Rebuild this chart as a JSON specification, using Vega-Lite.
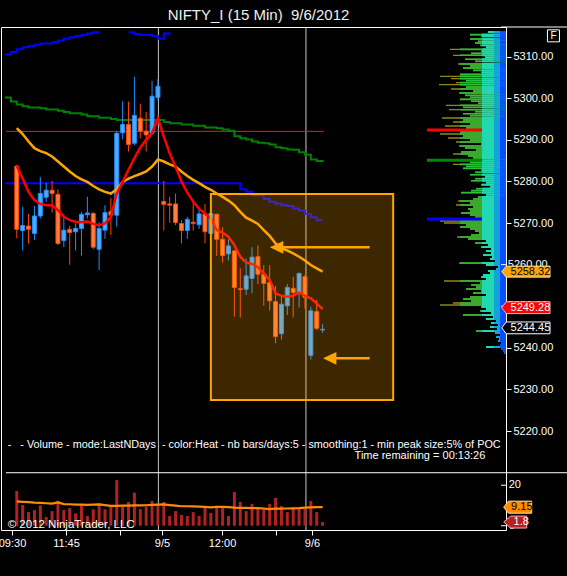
{
"$schema": "https://vega.github.io/schema/vega-lite/v6.json",
"width": 505, "height": 503,
"autosize": {"type": "none"},
"padding": {"left": 1, "top": 27, "right": 61, "bottom": 46},
"background": "#000000",
"title": {"text": "NIFTY_I (15 Min)\u00a0\u00a09/6/2012", "color": "#f0f0f0", "font": "Liberation Sans", "fontSize": 15, "fontWeight": "normal", "frame": "group", "anchor": "middle", "dx": 5, "offset": 4},
"config": {
  "view": {"stroke": "#ffffff", "strokeWidth": 1},
  "axis": {"labelColor": "#ffffff", "tickColor": "#ffffff", "domain": false, "grid": false, "labelFont": "Liberation Sans", "labelFontSize": 11},
  "text": {"font": "Liberation Sans", "fontSize": 11, "color": "#ffffff"}
},
"datasets": {
"candles": [
{"i":0,"o":5283.7,"h":5284.0,"l":5266.3,"c":5268.5,"d":"dn","m1":5283.7,"m2":5292.8},
{"i":1,"o":5268.2,"h":5273.9,"l":5263.4,"c":5269.4,"d":"up","m1":5280.7,"m2":5291.4},
{"i":2,"o":5269.3,"h":5272.2,"l":5265.1,"c":5268.5,"d":"dn","m1":5277.5,"m2":5289.6},
{"i":3,"o":5267.5,"h":5274.1,"l":5265.9,"c":5271.7,"d":"up","m1":5275.5,"m2":5288.0},
{"i":4,"o":5271.7,"h":5281.1,"l":5271.1,"c":5277.1,"d":"up","m1":5274.6,"m2":5287.3},
{"i":5,"o":5276.2,"h":5279.7,"l":5275.1,"c":5277.9,"d":"up","m1":5274.3,"m2":5286.8},
{"i":6,"o":5277.9,"h":5280.1,"l":5272.5,"c":5277.1,"d":"dn","m1":5274.3,"m2":5286.0},
{"i":7,"o":5276.9,"h":5278.1,"l":5264.7,"c":5265.1,"d":"dn","m1":5273.1,"m2":5284.8},
{"i":8,"o":5265.8,"h":5272.2,"l":5264.2,"c":5268.3,"d":"up","m1":5271.5,"m2":5283.6},
{"i":9,"o":5268.5,"h":5269.3,"l":5260.0,"c":5267.7,"d":"dn","m1":5270.7,"m2":5282.4},
{"i":10,"o":5267.9,"h":5269.9,"l":5263.4,"c":5268.7,"d":"up","m1":5270.3,"m2":5281.3},
{"i":11,"o":5268.7,"h":5272.7,"l":5262.2,"c":5272.1,"d":"up","m1":5270.2,"m2":5280.5},
{"i":12,"o":5272.0,"h":5276.3,"l":5271.1,"c":5272.4,"d":"up","m1":5270.4,"m2":5279.9},
{"i":13,"o":5272.3,"h":5272.7,"l":5263.7,"c":5264.2,"d":"dn","m1":5269.8,"m2":5278.9},
{"i":14,"o":5263.7,"h":5270.2,"l":5258.7,"c":5268.7,"d":"up","m1":5269.5,"m2":5278.1},
{"i":15,"o":5268.3,"h":5274.3,"l":5266.2,"c":5272.5,"d":"up","m1":5269.9,"m2":5277.5},
{"i":16,"o":5272.8,"h":5276.0,"l":5267.1,"c":5271.9,"d":"dn","m1":5271.5,"m2":5277.1},
{"i":17,"o":5271.9,"h":5292.0,"l":5269.1,"c":5291.6,"d":"up","m1":5277.1,"m2":5278.1},
{"i":18,"o":5291.7,"h":5299.3,"l":5290.1,"c":5293.7,"d":"up","m1":5279.9,"m2":5279.9},
{"i":19,"o":5293.7,"h":5299.2,"l":5287.2,"c":5288.9,"d":"dn","m1":5282.8,"m2":5280.7},
{"i":20,"o":5289.2,"h":5305.2,"l":5288.7,"c":5295.9,"d":"up","m1":5285.6,"m2":5281.3},
{"i":21,"o":5295.2,"h":5298.7,"l":5290.4,"c":5292.1,"d":"dn","m1":5288.2,"m2":5281.8},
{"i":22,"o":5292.1,"h":5296.7,"l":5287.2,"c":5291.2,"d":"dn","m1":5290.0,"m2":5282.4},
{"i":23,"o":5291.6,"h":5304.2,"l":5291.2,"c":5300.5,"d":"up","m1":5291.6,"m2":5283.6},
{"i":24,"o":5300.2,"h":5304.6,"l":5299.5,"c":5302.9,"d":"up","m1":5295.2,"m2":5285.3},
{"i":25,"o":5275.2,"h":5280.1,"l":5268.2,"c":5274.5,"d":"dn","m1":5290.8,"m2":5284.8},
{"i":26,"o":5274.6,"h":5276.3,"l":5270.1,"c":5274.3,"d":"dn","m1":5286.8,"m2":5284.1},
{"i":27,"o":5274.6,"h":5277.1,"l":5269.5,"c":5270.1,"d":"dn","m1":5283.5,"m2":5283.6},
{"i":28,"o":5269.9,"h":5270.7,"l":5265.1,"c":5268.2,"d":"dn","m1":5280.0,"m2":5282.4},
{"i":29,"o":5268.2,"h":5271.5,"l":5266.2,"c":5270.9,"d":"up","m1":5277.3,"m2":5281.3},
{"i":30,"o":5270.2,"h":5275.3,"l":5268.2,"c":5269.9,"d":"dn","m1":5275.2,"m2":5280.4},
{"i":31,"o":5269.6,"h":5273.5,"l":5268.6,"c":5272.2,"d":"up","m1":5273.4,"m2":5279.6},
{"i":32,"o":5272.2,"h":5274.6,"l":5265.1,"c":5267.9,"d":"dn","m1":5272.3,"m2":5278.7},
{"i":33,"o":5267.5,"h":5272.7,"l":5267.1,"c":5272.3,"d":"up","m1":5271.1,"m2":5278.0},
{"i":34,"o":5272.1,"h":5272.3,"l":5262.1,"c":5266.1,"d":"dn","m1":5268.3,"m2":5277.1},
{"i":35,"o":5266.1,"h":5269.0,"l":5260.5,"c":5262.2,"d":"dn","m1":5267.7,"m2":5276.3},
{"i":36,"o":5262.6,"h":5266.1,"l":5261.0,"c":5264.5,"d":"up","m1":5266.7,"m2":5275.4},
{"i":37,"o":5263.3,"h":5263.5,"l":5247.5,"c":5254.5,"d":"dn","m1":5264.7,"m2":5274.3},
{"i":38,"o":5254.2,"h":5259.1,"l":5247.3,"c":5254.0,"d":"dn","m1":5261.9,"m2":5272.7},
{"i":39,"o":5254.1,"h":5261.5,"l":5252.7,"c":5257.3,"d":"up","m1":5260.5,"m2":5271.3},
{"i":40,"o":5256.7,"h":5264.2,"l":5253.1,"c":5261.8,"d":"up","m1":5260.2,"m2":5270.6},
{"i":41,"o":5261.9,"h":5264.6,"l":5255.3,"c":5257.7,"d":"dn","m1":5259.4,"m2":5269.8},
{"i":42,"o":5257.7,"h":5259.9,"l":5250.1,"c":5255.5,"d":"dn","m1":5257.9,"m2":5268.3},
{"i":43,"o":5255.7,"h":5259.9,"l":5249.0,"c":5251.3,"d":"dn","m1":5256.3,"m2":5266.9},
{"i":44,"o":5251.1,"h":5254.9,"l":5241.1,"c":5242.7,"d":"dn","m1":5253.1,"m2":5265.1},
{"i":45,"o":5243.4,"h":5252.3,"l":5242.0,"c":5250.5,"d":"up","m1":5252.5,"m2":5263.9},
{"i":46,"o":5250.1,"h":5255.3,"l":5247.9,"c":5254.5,"d":"up","m1":5252.3,"m2":5263.4},
{"i":47,"o":5254.3,"h":5257.1,"l":5247.3,"c":5253.3,"d":"dn","m1":5252.5,"m2":5262.7},
{"i":48,"o":5253.1,"h":5258.1,"l":5249.7,"c":5257.9,"d":"up","m1":5253.3,"m2":5261.9},
{"i":49,"o":5257.1,"h":5257.5,"l":5249.5,"c":5252.1,"d":"dn","m1":5252.5,"m2":5261.0},
{"i":50,"o":5238.2,"h":5249.9,"l":5237.2,"c":5248.9,"d":"up","m1":5251.9,"m2":5259.9},
{"i":51,"o":5248.7,"h":5251.5,"l":5244.3,"c":5244.7,"d":"dn","m1":5250.7,"m2":5259.1},
{"i":52,"o":5244.3,"h":5245.7,"l":5243.6,"c":5244.45,"d":"up","m1":5249.28,"m2":5258.32}
],
"vol": [
{"i":0,"v":17.1,"s":12.0},{"i":1,"v":10.2,"s":11.8},{"i":2,"v":6.7,"s":11.6},{"i":3,"v":7.7,"s":11.4},{"i":4,"v":10.0,"s":11.3},{"i":5,"v":4.3,"s":11.1},{"i":6,"v":7.2,"s":10.9},{"i":7,"v":12.3,"s":11.5},{"i":8,"v":7.7,"s":10.7},{"i":9,"v":8.7,"s":10.6},{"i":10,"v":6.1,"s":10.4},{"i":11,"v":10.0,"s":10.4},{"i":12,"v":4.8,"s":10.3},{"i":13,"v":8.1,"s":10.4},{"i":14,"v":11.0,"s":10.5},{"i":15,"v":8.1,"s":10.2},{"i":16,"v":9.7,"s":9.8},{"i":17,"v":22.5,"s":9.8},{"i":18,"v":9.4,"s":9.9},{"i":19,"v":11.7,"s":9.9},{"i":20,"v":16.3,"s":10.0},{"i":21,"v":8.2,"s":10.0},{"i":22,"v":9.4,"s":10.1},{"i":23,"v":12.2,"s":10.3},{"i":24,"v":11.0,"s":10.4},{"i":25,"v":11.7,"s":10.5},{"i":26,"v":4.8,"s":10.2},{"i":27,"v":7.2,"s":9.9},{"i":28,"v":5.3,"s":9.6},{"i":29,"v":4.8,"s":9.6},{"i":30,"v":6.7,"s":9.5},{"i":31,"v":4.8,"s":9.4},{"i":32,"v":9.2,"s":9.3},{"i":33,"v":6.3,"s":9.1},{"i":34,"v":9.2,"s":9.3},{"i":35,"v":9.2,"s":9.3},{"i":36,"v":4.8,"s":9.2},{"i":37,"v":16.6,"s":8.9},{"i":38,"v":11.7,"s":8.8},{"i":39,"v":7.2,"s":8.8},{"i":40,"v":10.7,"s":8.7},{"i":41,"v":9.0,"s":8.7},{"i":42,"v":8.7,"s":8.5},{"i":43,"v":10.7,"s":8.2},{"i":44,"v":13.7,"s":8.4},{"i":45,"v":9.7,"s":8.4},{"i":46,"v":6.7,"s":8.5},{"i":47,"v":9.0,"s":8.6},{"i":48,"v":8.7,"s":8.7},{"i":49,"v":8.4,"s":8.9},{"i":50,"v":12.2,"s":9.1},{"i":51,"v":6.7,"s":9.2},{"i":52,"v":1.8,"s":9.15}
],
"green": [
{"i":-2,"p":5300.2},{"i":-1,"p":5299.2},{"i":0,"p":5298.5},{"i":1,"p":5298.1},{"i":2,"p":5297.8},{"i":4,"p":5297.6},{"i":5,"p":5297.3},{"i":7,"p":5297.0},{"i":8,"p":5296.7},{"i":9,"p":5296.4},{"i":11,"p":5296.1},{"i":12,"p":5295.7},{"i":14,"p":5295.3},{"i":16,"p":5295.0},{"i":17,"p":5294.8},{"i":25,"p":5294.3},{"i":26,"p":5294.0},{"i":28,"p":5293.7},{"i":30,"p":5293.4},{"i":32,"p":5293.0},{"i":34,"p":5292.8},{"i":35,"p":5292.5},{"i":36,"p":5292.2},{"i":37,"p":5290.9},{"i":38,"p":5290.4},{"i":39,"p":5290.1},{"i":40,"p":5289.6},{"i":41,"p":5289.3},{"i":42,"p":5289.2},{"i":43,"p":5288.9},{"i":44,"p":5288.2},{"i":45,"p":5288.0},{"i":46,"p":5287.7},{"i":47,"p":5287.6},{"i":48,"p":5287.0},{"i":49,"p":5286.4},{"i":50,"p":5285.3},{"i":51,"p":5284.9},{"i":52.2,"p":5284.9}
],
"blue": [
{"s":1,"i":-2,"p":5310.5},{"s":1,"i":-1,"p":5311.1},{"s":1,"i":0,"p":5311.8},{"s":1,"i":1,"p":5312.3},{"s":1,"i":2,"p":5312.6},{"s":1,"i":3,"p":5312.9},{"s":1,"i":4,"p":5313.2},{"s":1,"i":6,"p":5313.5},{"s":1,"i":7,"p":5313.9},{"s":1,"i":8,"p":5314.3},{"s":1,"i":9,"p":5314.7},{"s":1,"i":10,"p":5315.0},{"s":1,"i":11,"p":5315.3},{"s":1,"i":12,"p":5315.6},{"s":1,"i":13,"p":5315.9},{"s":1,"i":14,"p":5315.9},
{"s":2,"i":19,"p":5315.9},{"s":2,"i":20,"p":5315.4},{"s":2,"i":21,"p":5315.2},{"s":2,"i":23,"p":5315.0},{"s":2,"i":24,"p":5314.3},{"s":2,"i":25,"p":5315.6},{"s":2,"i":26,"p":5315.9},
{"s":3,"i":-2,"p":5279.6},{"s":3,"i":38,"p":5278.1},{"s":3,"i":39,"p":5277.5},{"s":3,"i":40,"p":5276.7},{"s":3,"i":42,"p":5275.8},{"s":3,"i":43,"p":5275.1},{"s":3,"i":44,"p":5274.7},{"s":3,"i":45,"p":5274.3},{"s":3,"i":46,"p":5274.1},{"s":3,"i":47,"p":5273.5},{"s":3,"i":48,"p":5273.0},{"s":3,"i":49,"p":5272.2},{"s":3,"i":50,"p":5271.4},{"s":3,"i":51,"p":5270.7},{"s":3,"i":52,"p":5270.7}
],
"vp": [
{"p":5315.94,"v":18},{"p":5315.30,"v":36},{"p":5314.90,"v":25},{"p":5314.26,"v":36},{"p":5313.69,"v":28},{"p":5313.29,"v":31},{"p":5312.73,"v":26},{"p":5312.25,"v":20},{"p":5311.77,"v":56},{"p":5311.29,"v":25},{"p":5310.81,"v":35},{"p":5310.33,"v":53},{"p":5309.85,"v":21},{"p":5309.37,"v":41},{"p":5308.88,"v":31},{"p":5308.24,"v":48},{"p":5307.76,"v":36},{"p":5307.28,"v":43},{"p":5306.72,"v":33},{"p":5306.24,"v":25},{"p":5305.76,"v":46},{"p":5305.28,"v":66},{"p":5304.72,"v":55},{"p":5304.24,"v":40},{"p":5303.76,"v":50},{"p":5303.27,"v":67},{"p":5302.71,"v":40},{"p":5302.23,"v":55},{"p":5301.75,"v":33},{"p":5301.27,"v":47},{"p":5300.71,"v":41},{"p":5300.23,"v":36},{"p":5299.75,"v":46},{"p":5299.27,"v":35},{"p":5298.79,"v":28},{"p":5298.31,"v":60},{"p":5297.82,"v":43},{"p":5297.26,"v":57},{"p":5296.78,"v":31},{"p":5296.30,"v":43},{"p":5295.82,"v":36},{"p":5295.26,"v":64},{"p":5294.78,"v":43},{"p":5294.30,"v":53},{"p":5293.82,"v":36},{"p":5293.34,"v":61},{"p":5292.85,"v":40},{"p":5292.37,"v":79},{"p":5291.89,"v":46},{"p":5291.41,"v":66},{"p":5290.93,"v":43},{"p":5290.45,"v":58},{"p":5289.97,"v":36},{"p":5289.49,"v":50},{"p":5289.01,"v":25},{"p":5288.53,"v":47},{"p":5288.05,"v":41},{"p":5287.57,"v":30},{"p":5287.08,"v":45},{"p":5286.60,"v":53},{"p":5286.12,"v":38},{"p":5285.64,"v":33},{"p":5285.08,"v":79},{"p":5284.60,"v":36},{"p":5284.12,"v":53},{"p":5283.64,"v":40},{"p":5283.16,"v":43},{"p":5282.68,"v":25},{"p":5282.20,"v":31},{"p":5281.63,"v":36},{"p":5281.15,"v":21},{"p":5280.67,"v":31},{"p":5280.19,"v":35},{"p":5279.71,"v":20},{"p":5279.23,"v":25},{"p":5278.75,"v":16},{"p":5278.27,"v":30},{"p":5277.79,"v":35},{"p":5277.31,"v":45},{"p":5276.82,"v":20},{"p":5276.26,"v":28},{"p":5275.78,"v":33},{"p":5275.30,"v":48},{"p":5274.82,"v":36},{"p":5274.34,"v":50},{"p":5273.86,"v":33},{"p":5273.38,"v":38},{"p":5272.90,"v":36},{"p":5272.42,"v":45},{"p":5271.94,"v":36},{"p":5271.45,"v":31},{"p":5270.97,"v":79},{"p":5270.49,"v":66},{"p":5270.01,"v":62},{"p":5269.53,"v":40},{"p":5269.05,"v":46},{"p":5268.57,"v":36},{"p":5268.09,"v":31},{"p":5267.61,"v":27},{"p":5267.13,"v":35},{"p":5266.65,"v":49},{"p":5266.17,"v":38},{"p":5265.68,"v":20},{"p":5265.20,"v":31},{"p":5264.72,"v":18},{"p":5264.24,"v":25},{"p":5263.76,"v":15},{"p":5263.28,"v":20},{"p":5262.80,"v":15},{"p":5262.32,"v":23},{"p":5261.84,"v":14},{"p":5261.36,"v":16},{"p":5260.88,"v":11},{"p":5260.39,"v":47},{"p":5259.91,"v":20},{"p":5259.43,"v":8},{"p":5258.95,"v":10},{"p":5258.47,"v":18},{"p":5257.99,"v":16},{"p":5257.51,"v":23},{"p":5257.03,"v":25},{"p":5256.55,"v":20},{"p":5256.07,"v":62},{"p":5255.59,"v":26},{"p":5255.10,"v":35},{"p":5254.62,"v":30},{"p":5254.14,"v":40},{"p":5253.66,"v":25},{"p":5253.18,"v":33},{"p":5252.70,"v":20},{"p":5252.22,"v":36},{"p":5251.74,"v":43},{"p":5251.26,"v":35},{"p":5250.78,"v":53},{"p":5250.30,"v":66},{"p":5249.81,"v":25},{"p":5249.33,"v":20},{"p":5248.85,"v":26},{"p":5248.37,"v":15},{"p":5247.89,"v":43},{"p":5247.41,"v":13},{"p":5246.93,"v":20},{"p":5246.45,"v":10},{"p":5245.97,"v":15},{"p":5245.49,"v":8},{"p":5245.01,"v":16},{"p":5244.53,"v":9},{"p":5244.04,"v":30},{"p":5243.56,"v":11},{"p":5243.08,"v":6},{"p":5242.60,"v":10},{"p":5242.12,"v":7},{"p":5241.64,"v":8},{"p":5241.16,"v":5},{"p":5240.68,"v":6},{"p":5240.20,"v":20},{"p":5239.72,"v":5},{"p":5239.24,"v":3},{"p":5238.75,"v":2}
],
"poc": [{"p":5292.37,"v":79,"k":"r"},{"p":5285.08,"v":79,"k":"g"},{"p":5270.97,"v":79,"k":"b"}]
},
"resolve": {"scale": {"x": "independent", "y": "independent", "color": "independent", "stroke": "independent"}},
"layer": [
{"data": {"name": "candles"}, "mark": {"type": "rule", "opacity": 0},
 "encoding": {"x": {"field": "i", "type": "quantitative", "scale": {"domain": [-1.8333, 82.3333], "nice": false, "zero": false},
    "axis": {"orient": "bottom", "title": null, "values": [0, 9, 18, 25, 35, 44, 50], "labelExpr": "datum.value==0?'09:30':datum.value==9?'11:45':datum.value==25?'9/5':datum.value==35?'12:00':datum.value==50?'9/6':''", "tickSize": 5, "labelPadding": 2, "labelOverlap": false, "labelFlush": false}},
  "y": {"field": "l", "type": "quantitative", "scale": {"domain": [5196.2, 5317.14], "nice": false, "zero": false},
    "axis": {"orient": "right", "title": null, "values": [5220, 5230, 5240, 5270, 5280, 5290, 5300, 5310], "format": ".2f", "tickSize": 5, "labelPadding": 2, "labelOverlap": false}}}},
{"data": {"name": "vp"}, "mark": {"type": "rule", "strokeWidth": 1.3, "strokeCap": "butt", "color": "#8c8a14"},
 "encoding": {"x": {"field": "v", "type": "quantitative", "scale": {"domain": [0, 505], "range": [505, 0], "nice": false, "zero": false}, "axis": null}, "x2": {"datum": 0},
  "y": {"field": "p", "type": "quantitative", "scale": {"domain": [5196.2, 5317.14], "nice": false, "zero": false}, "axis": null}}},
{"data": {"name": "vp"}, "mark": {"type": "rule", "strokeWidth": 1.6, "strokeCap": "butt", "color": "#2cbf3a"},
 "encoding": {"x": {"field": "v", "type": "quantitative", "scale": {"domain": [0, 46], "range": [505, 459], "clamp": true, "nice": false, "zero": false}, "axis": null}, "x2": {"datum": 0},
  "y": {"field": "p", "type": "quantitative", "scale": {"domain": [5196.2, 5317.14], "nice": false, "zero": false}, "axis": null}}},
{"data": {"name": "poc"}, "mark": {"type": "rule", "strokeWidth": 3, "strokeCap": "butt"},
 "encoding": {"x": {"field": "v", "type": "quantitative", "scale": {"domain": [0, 505], "range": [505, 0], "nice": false, "zero": false}, "axis": null}, "x2": {"datum": 0},
  "y": {"field": "p", "type": "quantitative", "scale": {"domain": [5196.2, 5317.14], "nice": false, "zero": false}, "axis": null},
  "color": {"field": "k", "type": "nominal", "scale": {"domain": ["r", "g", "b"], "range": ["#ff0000", "#008a00", "#0000ff"]}, "legend": null}}},
{"data": {"name": "vp"}, "mark": {"type": "rule", "strokeWidth": 2, "strokeCap": "butt", "color": "#22d8b0"},
 "encoding": {"x": {"field": "v", "type": "quantitative", "scale": {"domain": [0, 24], "range": [505, 481], "clamp": true, "nice": false, "zero": false}, "axis": null}, "x2": {"datum": 0},
  "y": {"field": "p", "type": "quantitative", "scale": {"domain": [5196.2, 5317.14], "nice": false, "zero": false}, "axis": null}}},
{"data": {"name": "vp"}, "mark": {"type": "rule", "strokeWidth": 2, "strokeCap": "butt", "color": "#12a4d8"},
 "encoding": {"x": {"field": "v", "type": "quantitative", "scale": {"domain": [0, 12], "range": [505, 493], "clamp": true, "nice": false, "zero": false}, "axis": null}, "x2": {"datum": 0},
  "y": {"field": "p", "type": "quantitative", "scale": {"domain": [5196.2, 5317.14], "nice": false, "zero": false}, "axis": null}}},
{"data": {"name": "vp"}, "mark": {"type": "rule", "strokeWidth": 2, "strokeCap": "butt", "color": "#0a4cff"},
 "encoding": {"x": {"field": "v", "type": "quantitative", "scale": {"domain": [0, 6], "range": [505, 499], "clamp": true, "nice": false, "zero": false}, "axis": null}, "x2": {"datum": 0},
  "y": {"field": "p", "type": "quantitative", "scale": {"domain": [5196.2, 5317.14], "nice": false, "zero": false}, "axis": null}}},
{"layer": [
  {"data": {"values": [{"i": 24.08}, {"i": 49.17}]}, "mark": {"type": "rule", "color": "#c8c8c8", "strokeWidth": 1},
   "encoding": {"x": {"field": "i", "type": "quantitative", "scale": {"domain": [-1.8333, 82.3333], "nice": false, "zero": false}, "axis": null}}},
  {"data": {"values": [{"i": -1.8333, "i2": 95, "p": 5209.97}, {"i": 82.3333, "i2": 95, "p": 5317.14}, {"i": 82.3333, "i2": 83.1667, "p": 5260}, {"i": 82.3333, "i2": 83.1667, "p": 5250}]}, "mark": {"type": "rule", "color": "#ffffff", "strokeWidth": 1},
   "encoding": {"x": {"field": "i", "type": "quantitative", "scale": {"domain": [-1.8333, 82.3333], "nice": false, "zero": false}, "axis": null}, "x2": {"field": "i2"},
    "y": {"field": "p", "type": "quantitative", "scale": {"domain": [5196.2, 5317.14], "nice": false, "zero": false}, "axis": null}}},
  {"data": {"values": [{"i": 83.5, "p": 5260, "t": "5260.00"}, {"i": 83.5, "p": 5250, "t": "5250.00"}]}, "mark": {"type": "text", "align": "left", "baseline": "middle", "fontSize": 11, "color": "#ffffff"},
   "encoding": {"x": {"field": "i", "type": "quantitative", "scale": {"domain": [-1.8333, 82.3333], "nice": false, "zero": false}, "axis": null},
    "y": {"field": "p", "type": "quantitative", "scale": {"domain": [5196.2, 5317.14], "nice": false, "zero": false}, "axis": null}, "text": {"field": "t"}}},
  {"data": {"values": [{"i": -1.8333, "i2": 52.2, "p": 5292.05}]}, "mark": {"type": "rule", "color": "#ff1010", "strokeWidth": 1},
   "encoding": {"x": {"field": "i", "type": "quantitative", "scale": {"domain": [-1.8333, 82.3333], "nice": false, "zero": false}, "axis": null}, "x2": {"field": "i2"},
    "y": {"field": "p", "type": "quantitative", "scale": {"domain": [5196.2, 5317.14], "nice": false, "zero": false}, "axis": null}}},
  {"data": {"name": "blue"}, "mark": {"type": "line", "interpolate": "step-after", "color": "#0000ff", "strokeWidth": 2},
   "encoding": {"x": {"field": "i", "type": "quantitative", "scale": {"domain": [-1.8333, 82.3333], "nice": false, "zero": false}, "axis": null},
    "y": {"field": "p", "type": "quantitative", "scale": {"domain": [5196.2, 5317.14], "nice": false, "zero": false}, "axis": null}, "detail": {"field": "s"}}},
  {"data": {"name": "green"}, "mark": {"type": "line", "interpolate": "step-after", "color": "#008000", "strokeWidth": 2},
   "encoding": {"x": {"field": "i", "type": "quantitative", "scale": {"domain": [-1.8333, 82.3333], "nice": false, "zero": false}, "axis": null},
    "y": {"field": "p", "type": "quantitative", "scale": {"domain": [5196.2, 5317.14], "nice": false, "zero": false}, "axis": null}}},
  {"data": {"name": "candles"}, "mark": {"type": "rule", "strokeWidth": 1},
   "encoding": {"x": {"field": "i", "type": "quantitative", "scale": {"domain": [-1.8333, 82.3333], "nice": false, "zero": false}, "axis": null},
    "y": {"field": "l", "type": "quantitative", "scale": {"domain": [5196.2, 5317.14], "nice": false, "zero": false}, "axis": null},
    "y2": {"field": "h"},
    "stroke": {"field": "d", "type": "nominal", "scale": {"domain": ["up", "dn"], "range": ["#1e90ff", "#ff4500"]}, "legend": null}}},
  {"data": {"name": "candles"}, "mark": {"type": "bar", "strokeWidth": 1},
   "encoding": {"x": {"field": "i", "type": "quantitative", "scale": {"domain": [-1.8333, 82.3333], "nice": false, "zero": false}, "axis": null},
    "y": {"field": "o", "type": "quantitative", "scale": {"domain": [5196.2, 5317.14], "nice": false, "zero": false}, "axis": null},
    "y2": {"field": "c"}, "size": {"value": 4},
    "color": {"field": "d", "type": "nominal", "scale": {"domain": ["up", "dn"], "range": ["#50aaff", "#ff7f40"]}, "legend": null},
    "stroke": {"field": "d", "type": "nominal", "scale": {"domain": ["up", "dn"], "range": ["#1e90ff", "#ff4500"]}, "legend": null}}},
  {"data": {"name": "candles"}, "mark": {"type": "line", "color": "#ffa500", "strokeWidth": 2.5},
   "encoding": {"x": {"field": "i", "type": "quantitative", "scale": {"domain": [-1.8333, 82.3333], "nice": false, "zero": false}, "axis": null},
    "y": {"field": "m2", "type": "quantitative", "scale": {"domain": [5196.2, 5317.14], "nice": false, "zero": false}, "axis": null}}},
  {"data": {"name": "candles"}, "mark": {"type": "line", "color": "#ff0000", "strokeWidth": 2.5},
   "encoding": {"x": {"field": "i", "type": "quantitative", "scale": {"domain": [-1.8333, 82.3333], "nice": false, "zero": false}, "axis": null},
    "y": {"field": "m1", "type": "quantitative", "scale": {"domain": [5196.2, 5317.14], "nice": false, "zero": false}, "axis": null}}},
  {"data": {"values": [{"i": 33, "i2": 64, "p": 5276.99, "p2": 5227.45}]}, "mark": {"type": "rect", "fill": "#ffa500", "fillOpacity": 0.24, "stroke": "#ffa500", "strokeWidth": 2},
   "encoding": {"x": {"field": "i", "type": "quantitative", "scale": {"domain": [-1.8333, 82.3333], "nice": false, "zero": false}, "axis": null}, "x2": {"field": "i2"},
    "y": {"field": "p", "type": "quantitative", "scale": {"domain": [5196.2, 5317.14], "nice": false, "zero": false}, "axis": null}, "y2": {"field": "p2"}}},
  {"data": {"values": [{"i": 45, "i2": 60, "p": 5264.17}, {"i": 54.2, "i2": 60, "p": 5237.48}]}, "mark": {"type": "rule", "color": "#ffa500", "strokeWidth": 2.5},
   "encoding": {"x": {"field": "i", "type": "quantitative", "scale": {"domain": [-1.8333, 82.3333], "nice": false, "zero": false}, "axis": null}, "x2": {"field": "i2"},
    "y": {"field": "p", "type": "quantitative", "scale": {"domain": [5196.2, 5317.14], "nice": false, "zero": false}, "axis": null}}},
  {"data": {"values": [{"i": 44.17, "p": 5264.17}, {"i": 53.2, "p": 5237.48}]}, "mark": {"type": "point", "shape": "M-1,0L1,-0.95L1,0.95Z", "filled": true, "size": 180, "color": "#ffa500", "opacity": 1},
   "encoding": {"x": {"field": "i", "type": "quantitative", "scale": {"domain": [-1.8333, 82.3333], "nice": false, "zero": false}, "axis": null},
    "y": {"field": "p", "type": "quantitative", "scale": {"domain": [5196.2, 5317.14], "nice": false, "zero": false}, "axis": null}}},
  {"data": {"values": [{"i": -1.55, "p": 5215.91, "t": "-\u00a0\u00a0 - Volume - mode:LastNDays\u00a0 - color:Heat - nb bars/days:5 - smoothing:1 - min peak size:5% of POC"}]}, "mark": {"type": "text", "align": "left", "baseline": "alphabetic", "fontSize": 10.85, "color": "#ffffff"},
   "encoding": {"x": {"field": "i", "type": "quantitative", "scale": {"domain": [-1.8333, 82.3333], "nice": false, "zero": false}, "axis": null},
    "y": {"field": "p", "type": "quantitative", "scale": {"domain": [5196.2, 5317.14], "nice": false, "zero": false}, "axis": null}, "text": {"field": "t"}}},
  {"data": {"values": [{"i": 79.67, "p": 5213.2, "t": "Time remaining = 00:13:26"}]}, "mark": {"type": "text", "align": "right", "baseline": "alphabetic", "fontSize": 11, "color": "#ffffff"},
   "encoding": {"x": {"field": "i", "type": "quantitative", "scale": {"domain": [-1.8333, 82.3333], "nice": false, "zero": false}, "axis": null},
    "y": {"field": "p", "type": "quantitative", "scale": {"domain": [5196.2, 5317.14], "nice": false, "zero": false}, "axis": null}, "text": {"field": "t"}}},
  {"data": {"values": [{"i": 86.567, "ti": 83.95, "p": 5258.32, "t": "5258.32"}]},
   "layer": [
    {"mark": {"type": "point", "shape": "M-1,0L-0.817,-0.228L1,-0.228L1,0.228L-0.817,0.228Z", "size": 2323, "filled": true, "fill": "#ffa500", "stroke": "#ffe0a0", "strokeWidth": 1, "opacity": 1},
     "encoding": {"x": {"field": "i", "type": "quantitative", "scale": {"domain": [-1.8333, 82.3333], "nice": false, "zero": false}, "axis": null},
      "y": {"field": "p", "type": "quantitative", "scale": {"domain": [5196.2, 5317.14], "nice": false, "zero": false}, "axis": null}}},
    {"mark": {"type": "text", "align": "left", "baseline": "middle", "fontSize": 11, "color": "#000000"},
     "encoding": {"x": {"field": "ti", "type": "quantitative", "scale": {"domain": [-1.8333, 82.3333], "nice": false, "zero": false}, "axis": null},
      "y": {"field": "p", "type": "quantitative", "scale": {"domain": [5196.2, 5317.14], "nice": false, "zero": false}, "axis": null}, "text": {"field": "t"}}}
   ]},
  {"data": {"values": [{"i": 86.567, "ti": 83.95, "p": 5249.65, "t": "5249.28"}]},
   "layer": [
    {"mark": {"type": "point", "shape": "M-1,0L-0.817,-0.245L1,-0.245L1,0.245L-0.817,0.245Z", "size": 2323, "filled": true, "fill": "#ff0000", "stroke": "#ffb0b0", "strokeWidth": 1, "opacity": 1},
     "encoding": {"x": {"field": "i", "type": "quantitative", "scale": {"domain": [-1.8333, 82.3333], "nice": false, "zero": false}, "axis": null},
      "y": {"field": "p", "type": "quantitative", "scale": {"domain": [5196.2, 5317.14], "nice": false, "zero": false}, "axis": null}}},
    {"mark": {"type": "text", "align": "left", "baseline": "middle", "fontSize": 11, "color": "#ffffff"},
     "encoding": {"x": {"field": "ti", "type": "quantitative", "scale": {"domain": [-1.8333, 82.3333], "nice": false, "zero": false}, "axis": null},
      "y": {"field": "p", "type": "quantitative", "scale": {"domain": [5196.2, 5317.14], "nice": false, "zero": false}, "axis": null}, "text": {"field": "t"}}}
   ]},
  {"data": {"values": [{"i": 86.567, "ti": 83.95, "p": 5244.8, "t": "5244.45"}]},
   "layer": [
    {"mark": {"type": "point", "shape": "M-1,0L-0.817,-0.245L1,-0.245L1,0.245L-0.817,0.245Z", "size": 2323, "filled": true, "fill": "#000000", "stroke": "#ffffff", "strokeWidth": 1, "opacity": 1},
     "encoding": {"x": {"field": "i", "type": "quantitative", "scale": {"domain": [-1.8333, 82.3333], "nice": false, "zero": false}, "axis": null},
      "y": {"field": "p", "type": "quantitative", "scale": {"domain": [5196.2, 5317.14], "nice": false, "zero": false}, "axis": null}}},
    {"mark": {"type": "text", "align": "left", "baseline": "middle", "fontSize": 11, "color": "#ffffff"},
     "encoding": {"x": {"field": "ti", "type": "quantitative", "scale": {"domain": [-1.8333, 82.3333], "nice": false, "zero": false}, "axis": null},
      "y": {"field": "p", "type": "quantitative", "scale": {"domain": [5196.2, 5317.14], "nice": false, "zero": false}, "axis": null}, "text": {"field": "t"}}}
   ]},
  {"data": {"values": [{"i": 91.25, "p": 5315.01, "t": "F"}]},
   "layer": [
    {"mark": {"type": "point", "shape": "square", "size": 144, "filled": true, "fill": "#000000", "stroke": "#ffffff", "strokeWidth": 1, "opacity": 1},
     "encoding": {"x": {"field": "i", "type": "quantitative", "scale": {"domain": [-1.8333, 82.3333], "nice": false, "zero": false}, "axis": null},
      "y": {"field": "p", "type": "quantitative", "scale": {"domain": [5196.2, 5317.14], "nice": false, "zero": false}, "axis": null}}},
    {"mark": {"type": "text", "align": "center", "baseline": "middle", "fontSize": 10, "color": "#ffffff"},
     "encoding": {"x": {"field": "i", "type": "quantitative", "scale": {"domain": [-1.8333, 82.3333], "nice": false, "zero": false}, "axis": null},
      "y": {"field": "p", "type": "quantitative", "scale": {"domain": [5196.2, 5317.14], "nice": false, "zero": false}, "axis": null}, "text": {"field": "t"}}}
   ]}
]},
{"layer": [
  {"data": {"name": "vol"}, "mark": {"type": "bar", "color": "#b22222"},
   "encoding": {"x": {"field": "i", "type": "quantitative", "scale": {"domain": [-1.8333, 82.3333], "nice": false, "zero": false}, "axis": null},
    "y": {"field": "v", "type": "quantitative", "scale": {"domain": [-2.12, 246.27], "nice": false, "zero": false}, "axis": null}, "y2": {"datum": 0}, "size": {"value": 3}}},
  {"data": {"name": "vol"}, "mark": {"type": "line", "color": "#ff8c00", "strokeWidth": 2.2},
   "encoding": {"x": {"field": "i", "type": "quantitative", "scale": {"domain": [-1.8333, 82.3333], "nice": false, "zero": false}, "axis": null},
    "y": {"field": "s", "type": "quantitative", "scale": {"domain": [-2.12, 246.27], "nice": false, "zero": false}, "axis": null}}},
  {"data": {"values": [{"i": 82.3333, "i2": 83.1667, "v": 20}, {"i": 82.3333, "i2": 83.1667, "v": 0}]}, "mark": {"type": "rule", "color": "#ffffff", "strokeWidth": 1},
   "encoding": {"x": {"field": "i", "type": "quantitative", "scale": {"domain": [-1.8333, 82.3333], "nice": false, "zero": false}, "axis": null}, "x2": {"field": "i2"},
    "y": {"field": "v", "type": "quantitative", "scale": {"domain": [-2.12, 246.27], "nice": false, "zero": false}, "axis": null}}},
  {"data": {"values": [{"i": 83.63, "v": 20, "t": "20"}, {"i": 83.63, "v": 0, "t": "0"}]}, "mark": {"type": "text", "align": "left", "baseline": "middle", "fontSize": 11, "color": "#ffffff"},
   "encoding": {"x": {"field": "i", "type": "quantitative", "scale": {"domain": [-1.8333, 82.3333], "nice": false, "zero": false}, "axis": null},
    "y": {"field": "v", "type": "quantitative", "scale": {"domain": [-2.12, 246.27], "nice": false, "zero": false}, "axis": null}, "text": {"field": "t"}}},
  {"data": {"values": [{"i": 85.17, "ti": 84.05, "v": 9.15, "t": "9.15"}]},
   "layer": [
    {"mark": {"type": "point", "shape": "M-1,0L-0.657,-0.43L1,-0.43L1,0.43L-0.657,0.43Z", "size": 784, "filled": true, "fill": "#ff8c00", "stroke": "#ffe0a0", "strokeWidth": 1, "opacity": 1},
     "encoding": {"x": {"field": "i", "type": "quantitative", "scale": {"domain": [-1.8333, 82.3333], "nice": false, "zero": false}, "axis": null},
      "y": {"field": "v", "type": "quantitative", "scale": {"domain": [-2.12, 246.27], "nice": false, "zero": false}, "axis": null}}},
    {"mark": {"type": "text", "align": "left", "baseline": "middle", "fontSize": 11, "color": "#000000"},
     "encoding": {"x": {"field": "ti", "type": "quantitative", "scale": {"domain": [-1.8333, 82.3333], "nice": false, "zero": false}, "axis": null},
      "y": {"field": "v", "type": "quantitative", "scale": {"domain": [-2.12, 246.27], "nice": false, "zero": false}, "axis": null}, "text": {"field": "t"}}}
   ]},
  {"data": {"values": [{"i": 84.75, "ti": 84.47, "v": 1.8, "t": "1.8"}]},
   "layer": [
    {"mark": {"type": "point", "shape": "M-1,0L-0.39,-0.52L1,-0.52L1,0.52L-0.39,0.52Z", "size": 529, "filled": true, "fill": "#b22222", "stroke": "#ffb0b0", "strokeWidth": 1, "opacity": 1},
     "encoding": {"x": {"field": "i", "type": "quantitative", "scale": {"domain": [-1.8333, 82.3333], "nice": false, "zero": false}, "axis": null},
      "y": {"field": "v", "type": "quantitative", "scale": {"domain": [-2.12, 246.27], "nice": false, "zero": false}, "axis": null}}},
    {"mark": {"type": "text", "align": "left", "baseline": "middle", "fontSize": 11, "color": "#ffffff"},
     "encoding": {"x": {"field": "ti", "type": "quantitative", "scale": {"domain": [-1.8333, 82.3333], "nice": false, "zero": false}, "axis": null},
      "y": {"field": "v", "type": "quantitative", "scale": {"domain": [-2.12, 246.27], "nice": false, "zero": false}, "axis": null}, "text": {"field": "t"}}}
   ]},
  {"data": {"values": [{"i": -1.55, "v": -0.99, "t": "© 2012 NinjaTrader, LLC"}]}, "mark": {"type": "text", "align": "left", "baseline": "alphabetic", "fontSize": 11.5, "color": "#ffffff"},
   "encoding": {"x": {"field": "i", "type": "quantitative", "scale": {"domain": [-1.8333, 82.3333], "nice": false, "zero": false}, "axis": null},
    "y": {"field": "v", "type": "quantitative", "scale": {"domain": [-2.12, 246.27], "nice": false, "zero": false}, "axis": null}, "text": {"field": "t"}}}
]}
]
}
